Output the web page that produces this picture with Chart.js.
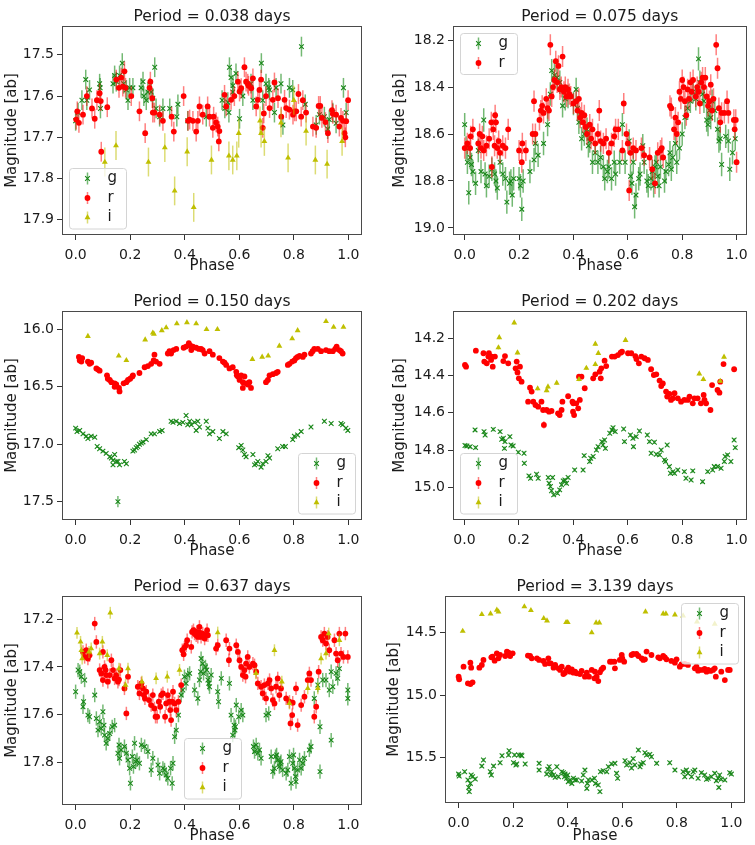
<!DOCTYPE html>
<html><head><meta charset="utf-8">
<script src="https://cdn.jsdelivr.net/npm/chart.js@4.4.0/dist/chart.umd.min.js"></script>
<style>
html,body{margin:0;padding:0;background:#fff;}
#wrap{position:relative;width:755px;height:845px;overflow:hidden;background:#fff;}
canvas{position:absolute;}
</style></head><body><div id="wrap"></div>
<script>
// ---------------- data (phase, magnitude[, error]) ----------------
const phaseTicks = [0.0, 0.2, 0.4, 0.6, 0.8, 1.0];
const titles = ['Period = 0.038 days','Period = 0.075 days','Period = 0.150 days','Period = 0.202 days','Period = 0.637 days','Period = 3.139 days'];
const p1_yticks = [17.5, 17.6, 17.7, 17.8, 17.9];
const p2_yticks = [18.2, 18.4, 18.6, 18.8, 19.0];
const p3_yticks = [16.0, 16.5, 17.0, 17.5];
const p4_yticks = [14.2, 14.4, 14.6, 14.8, 15.0];
const p5_yticks = [17.2, 17.4, 17.6, 17.8];
const p6_yticks = [14.5, 15.0, 15.5];

const p1_g = [[0.000,17.66],[0.009,17.64],[0.023,17.61],[0.037,17.56],[0.041,17.61],[0.051,17.585],[0.088,17.57],[0.090,17.58],[0.091,17.63],[0.137,17.57],[0.143,17.55],[0.149,17.565],[0.161,17.55],[0.171,17.52],[0.176,17.57],[0.186,17.585],[0.192,17.61],[0.198,17.58],[0.210,17.58],[0.240,17.58],[0.247,17.565],[0.250,17.60],[0.259,17.61],[0.265,17.59],[0.277,17.59],[0.283,17.605],[0.290,17.53],[0.295,17.63],[0.308,17.65],[0.320,17.63],[0.345,17.63],[0.371,17.65],[0.375,17.62],[0.411,17.66],[0.479,17.65],[0.537,17.61],[0.547,17.63],[0.558,17.615],[0.562,17.64],[0.564,17.53],[0.570,17.555],[0.576,17.59],[0.577,17.575],[0.588,17.545],[0.601,17.655],[0.613,17.60],[0.643,17.57],[0.650,17.61],[0.681,17.52],[0.686,17.61],[0.698,17.57],[0.708,17.58],[0.711,17.585],[0.729,17.64],[0.735,17.58],[0.753,17.57],[0.760,17.67],[0.784,17.58],[0.796,17.585],[0.828,17.48],[0.842,17.62],[0.882,17.67],[0.894,17.645],[0.912,17.65],[0.924,17.68],[0.930,17.657],[0.943,17.64],[0.955,17.666],[0.982,17.58],[0.992,17.64]];
const p1_r = [[0.002,17.657],[0.006,17.637],[0.012,17.665],[0.027,17.645],[0.041,17.60],[0.060,17.63],[0.070,17.655],[0.078,17.61],[0.088,17.593],[0.092,17.612],[0.094,17.735],[0.116,17.627],[0.149,17.56],[0.159,17.58],[0.167,17.555],[0.173,17.577],[0.179,17.54],[0.183,17.58],[0.204,17.60],[0.234,17.637],[0.255,17.69],[0.271,17.58],[0.274,17.565],[0.281,17.605],[0.283,17.64],[0.289,17.64],[0.308,17.645],[0.320,17.66],[0.352,17.65],[0.360,17.686],[0.396,17.60],[0.412,17.66],[0.418,17.657],[0.430,17.66],[0.442,17.686],[0.448,17.66],[0.454,17.625],[0.466,17.645],[0.484,17.625],[0.491,17.65],[0.503,17.677],[0.506,17.65],[0.515,17.664],[0.521,17.674],[0.527,17.685],[0.525,17.71],[0.546,17.597],[0.552,17.625],[0.570,17.609],[0.582,17.60],[0.595,17.565],[0.601,17.589],[0.607,17.581],[0.619,17.53],[0.625,17.565],[0.631,17.57],[0.634,17.575],[0.644,17.581],[0.650,17.557],[0.662,17.625],[0.668,17.609],[0.674,17.585],[0.680,17.56],[0.686,17.677],[0.690,17.642],[0.698,17.60],[0.711,17.629],[0.723,17.609],[0.729,17.567],[0.742,17.605],[0.754,17.65],[0.766,17.609],[0.772,17.629],[0.784,17.633],[0.797,17.645],[0.803,17.637],[0.809,17.637],[0.817,17.595],[0.827,17.65],[0.833,17.61],[0.845,17.64],[0.870,17.674],[0.882,17.677],[0.891,17.624],[0.897,17.624],[0.903,17.653],[0.916,17.663],[0.925,17.69],[0.940,17.634],[0.943,17.643],[0.955,17.645],[0.967,17.674],[0.973,17.653],[0.980,17.66],[0.986,17.69],[0.989,17.70],[0.992,17.661],[0.999,17.61]];
const p1_i = [[0.107,17.76],[0.148,17.72],[0.267,17.76],[0.327,17.725],[0.363,17.83],[0.409,17.735],[0.433,17.87],[0.498,17.755],[0.562,17.745],[0.576,17.755],[0.591,17.745],[0.598,17.69],[0.676,17.66],[0.680,17.69],[0.692,17.71],[0.753,17.665],[0.779,17.75],[0.800,17.61],[0.845,17.685],[0.879,17.755],[0.922,17.765],[0.977,17.71]];

const p2_g = [[0.000,18.56],[0.005,18.66],[0.010,18.72],[0.015,18.85],[0.020,18.70],[0.025,18.73],[0.030,18.76],[0.040,18.81],[0.050,18.67],[0.060,18.76],[0.070,18.54],[0.075,18.77],[0.080,18.82],[0.090,18.78],[0.100,18.75],[0.110,18.77],[0.115,18.80],[0.120,18.83],[0.130,18.72],[0.140,18.77],[0.150,18.79],[0.155,18.89],[0.165,18.81],[0.170,18.80],[0.175,18.86],[0.180,18.79],[0.200,18.79],[0.205,18.82],[0.210,18.92],[0.215,18.80],[0.240,18.76],[0.255,18.71],[0.260,18.64],[0.270,18.69],[0.290,18.64],[0.305,18.56],[0.315,18.43],[0.320,18.33],[0.330,18.35],[0.340,18.36],[0.350,18.38],[0.360,18.48],[0.370,18.45],[0.380,18.44],[0.400,18.47],[0.410,18.41],[0.415,18.49],[0.420,18.55],[0.430,18.62],[0.440,18.60],[0.450,18.58],[0.455,18.65],[0.460,18.63],[0.470,18.72],[0.480,18.68],[0.490,18.72],[0.500,18.70],[0.510,18.74],[0.515,18.79],[0.525,18.76],[0.530,18.74],[0.540,18.79],[0.550,18.72],[0.555,18.77],[0.570,18.72],[0.580,18.56],[0.590,18.72],[0.605,18.63],[0.610,18.78],[0.615,18.81],[0.620,18.72],[0.625,18.91],[0.630,18.86],[0.640,18.79],[0.645,18.77],[0.655,18.65],[0.660,18.72],[0.670,18.80],[0.675,18.82],[0.685,18.79],[0.690,18.76],[0.695,18.82],[0.700,18.74],[0.705,18.72],[0.710,18.78],[0.715,18.82],[0.720,18.74],[0.735,18.80],[0.740,18.76],[0.750,18.73],[0.755,18.68],[0.760,18.75],[0.765,18.70],[0.775,18.64],[0.780,18.72],[0.790,18.66],[0.800,18.60],[0.810,18.53],[0.820,18.49],[0.830,18.46],[0.840,18.42],[0.850,18.45],[0.860,18.28],[0.865,18.38],[0.875,18.43],[0.880,18.46],[0.890,18.54],[0.895,18.56],[0.900,18.50],[0.905,18.53],[0.910,18.46],[0.920,18.50],[0.930,18.58],[0.935,18.63],[0.940,18.62],[0.945,18.73],[0.960,18.61],[0.970,18.63],[0.975,18.75],[0.985,18.68],[0.995,18.62]];
const p2_r = [[0.000,18.66],[0.010,18.64],[0.020,18.66],[0.022,18.61],[0.030,18.58],[0.050,18.64],[0.055,18.60],[0.060,18.66],[0.065,18.61],[0.070,18.67],[0.080,18.65],[0.090,18.62],[0.098,18.55],[0.100,18.74],[0.105,18.58],[0.110,18.65],[0.112,18.52],[0.115,18.55],[0.120,18.66],[0.125,18.63],[0.130,18.68],[0.140,18.65],[0.150,18.66],[0.160,18.58],[0.200,18.67],[0.210,18.72],[0.212,18.64],[0.225,18.67],[0.250,18.60],[0.255,18.46],[0.260,18.60],[0.275,18.54],[0.280,18.50],[0.285,18.48],[0.290,18.51],[0.300,18.45],[0.305,18.49],[0.310,18.50],[0.315,18.22],[0.320,18.44],[0.325,18.40],[0.330,18.37],[0.335,18.29],[0.340,18.38],[0.345,18.31],[0.350,18.41],[0.355,18.40],[0.360,18.27],[0.365,18.42],[0.370,18.40],[0.375,18.44],[0.380,18.41],[0.385,18.43],[0.390,18.44],[0.400,18.47],[0.410,18.46],[0.415,18.50],[0.420,18.45],[0.425,18.53],[0.430,18.51],[0.435,18.55],[0.440,18.52],[0.445,18.57],[0.450,18.60],[0.460,18.56],[0.465,18.62],[0.470,18.58],[0.480,18.64],[0.490,18.60],[0.495,18.50],[0.500,18.63],[0.510,18.64],[0.520,18.62],[0.530,18.68],[0.540,18.64],[0.550,18.61],[0.555,18.58],[0.565,18.58],[0.580,18.67],[0.585,18.47],[0.595,18.60],[0.600,18.64],[0.605,18.84],[0.610,18.68],[0.620,18.66],[0.630,18.67],[0.650,18.66],[0.660,18.69],[0.680,18.70],[0.690,18.75],[0.700,18.81],[0.710,18.68],[0.720,18.67],[0.725,18.66],[0.730,18.70],[0.755,18.48],[0.760,18.49],[0.770,18.58],[0.775,18.53],[0.780,18.60],[0.785,18.55],[0.790,18.42],[0.795,18.45],[0.800,18.37],[0.805,18.40],[0.810,18.46],[0.815,18.52],[0.820,18.41],[0.825,18.45],[0.830,18.38],[0.835,18.42],[0.840,18.37],[0.850,18.44],[0.855,18.40],[0.860,18.42],[0.865,18.47],[0.870,18.38],[0.875,18.36],[0.880,18.40],[0.885,18.36],[0.890,18.44],[0.895,18.48],[0.900,18.46],[0.905,18.39],[0.910,18.50],[0.915,18.45],[0.925,18.22],[0.930,18.32],[0.935,18.49],[0.940,18.55],[0.945,18.51],[0.955,18.51],[0.965,18.46],[0.970,18.51],[0.990,18.54],[0.993,18.58],[0.997,18.54],[1.000,18.72]];

const p3_g = [[0.000,16.86],[0.005,16.89],[0.015,16.88],[0.027,16.91],[0.039,16.93],[0.045,16.95],[0.057,16.93],[0.070,16.94],[0.079,17.02],[0.088,17.04],[0.100,17.06],[0.112,17.08],[0.125,17.11],[0.131,17.12],[0.137,17.14],[0.143,17.09],[0.149,17.15],[0.155,17.15],[0.137,17.18],[0.161,17.18],[0.179,17.15],[0.186,17.17],[0.155,17.50,0.05],[0.210,17.06],[0.216,17.05],[0.222,17.03],[0.228,17.02],[0.234,17.00],[0.241,16.99],[0.247,16.98],[0.259,16.96],[0.277,16.91],[0.289,16.91],[0.308,16.89],[0.317,16.88],[0.350,16.80],[0.357,16.81],[0.369,16.80],[0.381,16.82],[0.393,16.81],[0.405,16.75],[0.411,16.83],[0.418,16.80],[0.424,16.83],[0.436,16.81],[0.442,16.88],[0.448,16.80],[0.454,16.85],[0.479,16.80],[0.485,16.86],[0.491,16.91],[0.503,16.89],[0.527,16.95],[0.540,16.89],[0.552,16.91],[0.598,17.03],[0.607,17.01],[0.613,17.05],[0.619,17.09],[0.625,17.11],[0.650,17.09],[0.656,17.18],[0.662,17.17],[0.668,17.15],[0.680,17.20],[0.686,17.17],[0.698,17.15],[0.705,17.10],[0.711,17.12],[0.741,17.04],[0.759,17.02],[0.769,17.02],[0.796,16.96],[0.802,16.93],[0.814,16.92],[0.827,16.89],[0.863,16.85],[0.912,16.80],[0.937,16.82],[0.973,16.82],[0.979,16.83],[0.991,16.86],[0.998,16.88]];
const p3_r = [[0.012,16.24],[0.015,16.27],[0.021,16.28],[0.024,16.25],[0.045,16.28],[0.051,16.30],[0.057,16.29],[0.076,16.34],[0.082,16.35],[0.088,16.36],[0.115,16.40],[0.118,16.43],[0.125,16.44],[0.131,16.46],[0.143,16.47],[0.143,16.50],[0.149,16.48],[0.159,16.51],[0.161,16.54],[0.176,16.47],[0.186,16.46],[0.192,16.44],[0.200,16.43],[0.208,16.41],[0.210,16.40],[0.234,16.38],[0.253,16.33],[0.265,16.32],[0.277,16.30],[0.286,16.27],[0.289,16.22],[0.295,16.28],[0.308,16.30],[0.338,16.21],[0.344,16.19],[0.350,16.21],[0.359,16.18],[0.369,16.17],[0.396,16.16],[0.405,16.15],[0.415,16.12],[0.420,16.14],[0.424,16.18],[0.430,16.15],[0.442,16.16],[0.452,16.17],[0.460,16.17],[0.466,16.18],[0.473,16.21],[0.491,16.19],[0.503,16.22],[0.527,16.25],[0.540,16.28],[0.546,16.29],[0.552,16.31],[0.564,16.34],[0.576,16.33],[0.589,16.37],[0.591,16.40],[0.595,16.41],[0.601,16.44],[0.607,16.40],[0.613,16.46],[0.619,16.41],[0.625,16.47],[0.631,16.48],[0.637,16.46],[0.643,16.51],[0.613,16.51],[0.698,16.46],[0.705,16.44],[0.711,16.40],[0.723,16.39],[0.735,16.38],[0.741,16.37],[0.778,16.31],[0.784,16.30],[0.794,16.28],[0.802,16.27],[0.808,16.25],[0.814,16.24],[0.821,16.23],[0.833,16.24],[0.839,16.22],[0.863,16.21],[0.869,16.19],[0.875,16.17],[0.888,16.17],[0.900,16.19],[0.918,16.18],[0.930,16.19],[0.943,16.19],[0.952,16.17],[0.957,16.15],[0.967,16.18],[0.973,16.19],[0.979,16.21]];
const p3_i = [[0.045,16.06],[0.158,16.23],[0.186,16.27],[0.255,16.09],[0.283,16.03],[0.287,16.04],[0.316,16.01],[0.332,15.985],[0.371,15.95],[0.408,15.94],[0.442,15.95],[0.480,16.00],[0.520,16.00],[0.648,16.26],[0.684,16.24],[0.706,16.23],[0.747,16.145],[0.794,16.08],[0.814,16.01],[0.918,15.93],[0.946,15.98],[0.982,15.98]];

const p4_g = [[0.002,14.776],[0.009,14.778],[0.021,14.782],[0.039,14.692],[0.041,14.787],[0.072,14.701],[0.076,14.719],[0.106,14.689],[0.131,14.701],[0.137,14.742],[0.143,14.737],[0.147,14.791],[0.149,14.755],[0.167,14.728],[0.171,14.773],[0.179,14.778],[0.198,14.812],[0.219,14.817],[0.220,14.871],[0.237,14.939],[0.243,14.952],[0.265,14.930],[0.271,14.952],[0.308,14.948],[0.311,14.979],[0.316,14.996],[0.320,15.019],[0.324,14.948],[0.328,15.041],[0.342,15.032],[0.350,15.014],[0.357,14.987],[0.363,14.966],[0.369,14.961],[0.375,14.979],[0.381,14.948],[0.405,14.907],[0.436,14.907],[0.440,14.830],[0.460,14.862],[0.464,14.844],[0.473,14.835],[0.485,14.800],[0.491,14.782],[0.505,14.755],[0.509,14.773],[0.515,14.746],[0.518,14.791],[0.534,14.710],[0.542,14.692],[0.546,14.680],[0.554,14.701],[0.585,14.687],[0.588,14.755],[0.610,14.719],[0.619,14.737],[0.631,14.728],[0.643,14.698],[0.621,14.782],[0.672,14.719],[0.680,14.755],[0.686,14.817],[0.698,14.758],[0.705,14.823],[0.717,14.826],[0.723,14.800],[0.735,14.853],[0.739,14.862],[0.745,14.773],[0.753,14.889],[0.757,14.925],[0.766,14.916],[0.772,14.925],[0.784,14.907],[0.808,14.916],[0.814,14.952],[0.833,14.961],[0.839,14.912],[0.875,14.970],[0.894,14.916],[0.912,14.907],[0.918,14.889],[0.930,14.889],[0.943,14.898],[0.955,14.862],[0.958,14.835],[0.967,14.826],[0.979,14.862],[0.991,14.746],[0.995,14.787]];
const p4_r = [[0.002,14.343],[0.006,14.352],[0.042,14.266],[0.070,14.280],[0.073,14.325],[0.082,14.334],[0.088,14.298],[0.090,14.280],[0.098,14.316],[0.104,14.352],[0.100,14.298],[0.112,14.298],[0.143,14.322],[0.149,14.295],[0.161,14.334],[0.188,14.361],[0.192,14.325],[0.195,14.383],[0.200,14.415],[0.204,14.352],[0.210,14.433],[0.241,14.465],[0.247,14.486],[0.234,14.540],[0.253,14.540],[0.261,14.558],[0.271,14.567],[0.283,14.540],[0.289,14.585],[0.302,14.585],[0.292,14.665,0.02],[0.311,14.594],[0.320,14.590],[0.350,14.612],[0.344,14.603],[0.357,14.585],[0.360,14.540],[0.381,14.511],[0.397,14.540],[0.399,14.594],[0.403,14.612],[0.400,14.549],[0.411,14.549],[0.418,14.576],[0.424,14.531],[0.442,14.468],[0.421,14.406],[0.430,14.406],[0.473,14.415],[0.481,14.393],[0.497,14.379],[0.503,14.361],[0.501,14.415],[0.515,14.320],[0.521,14.349],[0.542,14.298],[0.552,14.298],[0.564,14.290],[0.574,14.277],[0.579,14.272],[0.601,14.280],[0.613,14.280],[0.628,14.295],[0.632,14.311],[0.641,14.334],[0.650,14.298],[0.662,14.307],[0.674,14.316],[0.686,14.366],[0.696,14.397],[0.705,14.393],[0.717,14.427],[0.723,14.456],[0.729,14.442],[0.741,14.486],[0.745,14.513],[0.753,14.499],[0.759,14.531],[0.766,14.522],[0.772,14.495],[0.784,14.522],[0.796,14.540],[0.808,14.531],[0.821,14.531],[0.827,14.513],[0.839,14.549],[0.845,14.522],[0.857,14.522],[0.869,14.549],[0.879,14.504],[0.888,14.549],[0.882,14.531],[0.904,14.585],[0.910,14.451],[0.930,14.477],[0.937,14.492],[0.940,14.433],[0.952,14.338],[0.991,14.366]];
const p4_i = [[0.125,14.250],[0.128,14.195],[0.183,14.116],[0.195,14.277],[0.269,14.470],[0.302,14.480],[0.307,14.460],[0.339,14.440],[0.421,14.420],[0.448,14.360],[0.481,14.230],[0.481,14.340],[0.492,14.280],[0.592,14.210],[0.863,14.390],[0.878,14.420],[0.940,14.430],[0.954,14.300]];

const p5_g = [[0.000,17.504],[0.009,17.413],[0.015,17.420],[0.021,17.441],[0.027,17.567],[0.029,17.546],[0.033,17.455],[0.045,17.602],[0.051,17.609],[0.070,17.518],[0.076,17.616],[0.082,17.665],[0.088,17.630],[0.094,17.658],[0.100,17.588],[0.104,17.644],[0.106,17.686],[0.112,17.720],[0.118,17.700],[0.125,17.679],[0.134,17.651],[0.143,17.644],[0.155,17.762],[0.159,17.727],[0.161,17.783],[0.167,17.748],[0.179,17.734],[0.186,17.762],[0.192,17.790],[0.198,17.825],[0.201,17.888],[0.208,17.776],[0.212,17.818],[0.216,17.720],[0.220,17.797],[0.225,17.790],[0.234,17.804],[0.241,17.727],[0.253,17.734],[0.265,17.755],[0.277,17.832],[0.283,17.783],[0.302,17.811],[0.308,17.846],[0.320,17.825],[0.326,17.832],[0.332,17.853],[0.338,17.867],[0.348,17.825],[0.354,17.888],[0.357,17.804],[0.363,17.693],[0.369,17.665],[0.377,17.602],[0.387,17.518],[0.393,17.497],[0.399,17.441],[0.405,17.469],[0.411,17.434],[0.418,17.427],[0.436,17.497],[0.448,17.532],[0.454,17.455],[0.458,17.420],[0.460,17.365],[0.466,17.386],[0.469,17.427],[0.476,17.400],[0.481,17.413],[0.485,17.455],[0.488,17.469],[0.491,17.483],[0.497,17.434],[0.521,17.504],[0.524,17.546],[0.534,17.448],[0.564,17.469],[0.570,17.602],[0.576,17.686],[0.581,17.644],[0.584,17.665],[0.586,17.651],[0.589,17.560],[0.598,17.609],[0.607,17.581],[0.613,17.602],[0.652,17.734],[0.656,17.755],[0.662,17.727],[0.668,17.762],[0.674,17.748],[0.680,17.783],[0.698,17.602],[0.708,17.595],[0.717,17.776],[0.723,17.839],[0.729,17.825],[0.733,17.776],[0.737,17.769],[0.741,17.790],[0.747,17.818],[0.750,17.804],[0.753,17.797],[0.759,17.832],[0.772,17.846],[0.778,17.832],[0.784,17.776],[0.790,17.888],[0.796,17.804],[0.799,17.769],[0.802,17.825],[0.806,17.860],[0.808,17.881],[0.814,17.832],[0.821,17.790],[0.827,17.825],[0.833,17.804],[0.839,17.783],[0.857,17.748],[0.863,17.734],[0.875,17.532],[0.888,17.476],[0.896,17.651],[0.896,17.839],[0.906,17.455],[0.918,17.455],[0.930,17.497],[0.937,17.420],[0.943,17.483],[0.955,17.427],[0.961,17.448],[0.967,17.407],[0.998,17.532],[0.998,17.497],[0.937,17.707]];
const p5_r = [[0.027,17.337],[0.033,17.358],[0.039,17.330],[0.045,17.365],[0.051,17.351],[0.070,17.218],[0.076,17.295],[0.088,17.413],[0.094,17.427],[0.100,17.337],[0.100,17.455],[0.106,17.400],[0.110,17.413],[0.112,17.434],[0.118,17.462],[0.125,17.434],[0.131,17.372],[0.137,17.413],[0.143,17.448],[0.149,17.434],[0.155,17.462],[0.159,17.453],[0.164,17.413],[0.179,17.490],[0.186,17.595],[0.192,17.441],[0.228,17.483],[0.234,17.511],[0.241,17.469],[0.247,17.490],[0.250,17.518],[0.254,17.532],[0.259,17.504],[0.269,17.539],[0.277,17.560],[0.283,17.518],[0.289,17.574],[0.293,17.609],[0.299,17.609],[0.305,17.546],[0.310,17.567],[0.314,17.518],[0.320,17.511],[0.328,17.609],[0.332,17.553],[0.338,17.518],[0.344,17.546],[0.347,17.581],[0.350,17.623],[0.354,17.546],[0.357,17.504],[0.363,17.553],[0.369,17.581],[0.377,17.546],[0.387,17.476],[0.391,17.330],[0.396,17.347],[0.399,17.319],[0.405,17.309],[0.409,17.288],[0.424,17.316],[0.427,17.253],[0.432,17.246],[0.436,17.260],[0.442,17.267],[0.444,17.253],[0.448,17.274],[0.452,17.257],[0.454,17.232],[0.457,17.257],[0.460,17.274],[0.466,17.260],[0.473,17.281],[0.479,17.267],[0.482,17.246],[0.485,17.267],[0.515,17.323],[0.521,17.309],[0.552,17.288],[0.562,17.372],[0.564,17.323],[0.589,17.309],[0.595,17.337],[0.601,17.372],[0.607,17.400],[0.613,17.434],[0.619,17.413],[0.623,17.441],[0.625,17.386],[0.631,17.358],[0.637,17.400],[0.650,17.386],[0.656,17.393],[0.662,17.420],[0.668,17.469],[0.680,17.483],[0.686,17.511],[0.692,17.476],[0.698,17.532],[0.705,17.469],[0.711,17.455],[0.717,17.490],[0.723,17.539],[0.729,17.553],[0.735,17.483],[0.741,17.448],[0.747,17.518],[0.753,17.490],[0.772,17.532],[0.784,17.546],[0.788,17.637],[0.794,17.602],[0.796,17.550],[0.808,17.490],[0.814,17.644],[0.827,17.560],[0.839,17.525],[0.851,17.455],[0.857,17.427],[0.863,17.455],[0.875,17.609],[0.882,17.567],[0.891,17.420],[0.900,17.274],[0.906,17.288],[0.912,17.260],[0.918,17.302],[0.924,17.274],[0.930,17.330],[0.949,17.288],[0.955,17.344],[0.961,17.372],[0.967,17.260],[0.973,17.344],[0.982,17.358],[0.989,17.260],[0.998,17.358]];
const p5_i = [[0.005,17.257],[0.018,17.295],[0.021,17.330],[0.024,17.365],[0.049,17.337],[0.057,17.323],[0.088,17.344],[0.098,17.295],[0.116,17.351],[0.127,17.173],[0.159,17.407],[0.183,17.476],[0.192,17.407],[0.243,17.462],[0.295,17.448],[0.336,17.441],[0.381,17.413],[0.521,17.256],[0.661,17.427],[0.729,17.330],[0.756,17.462],[0.784,17.553],[0.851,17.490],[0.888,17.490],[0.900,17.365],[0.918,17.344],[0.928,17.260],[0.967,17.288]];

const p6_g = [[0.000,15.634],[0.002,15.650],[0.022,15.615],[0.034,15.682],[0.037,15.741],[0.039,15.775],[0.043,15.709],[0.046,15.642],[0.051,15.655],[0.061,15.674],[0.085,15.570],[0.091,15.521],[0.116,15.615],[0.120,15.642],[0.128,15.570],[0.152,15.543],[0.159,15.487],[0.183,15.481],[0.185,15.447],[0.201,15.543],[0.205,15.481],[0.210,15.561],[0.213,15.553],[0.220,15.481],[0.229,15.481],[0.232,15.487],[0.244,15.553],[0.295,15.548],[0.295,15.602],[0.323,15.634],[0.327,15.596],[0.332,15.575],[0.338,15.642],[0.341,15.615],[0.348,15.642],[0.354,15.660],[0.360,15.575],[0.366,15.655],[0.378,15.615],[0.384,15.623],[0.388,15.655],[0.390,15.634],[0.396,15.668],[0.400,15.642],[0.402,15.695],[0.409,15.682],[0.415,15.709],[0.421,15.668],[0.427,15.682],[0.433,15.682],[0.451,15.690],[0.457,15.642],[0.463,15.602],[0.470,15.749],[0.472,15.709],[0.476,15.682],[0.488,15.682],[0.498,15.668],[0.502,15.709],[0.512,15.722],[0.518,15.775],[0.520,15.615],[0.530,15.607],[0.543,15.615],[0.549,15.575],[0.561,15.553],[0.573,15.548],[0.579,15.628],[0.583,15.668],[0.610,15.527],[0.616,15.561],[0.628,15.543],[0.634,15.585],[0.640,15.510],[0.646,15.561],[0.659,15.441],[0.665,15.575],[0.668,15.553],[0.677,15.543],[0.683,15.463],[0.689,15.481],[0.701,15.476],[0.707,15.495],[0.726,15.548],[0.774,15.543],[0.793,15.602],[0.823,15.615],[0.829,15.655],[0.835,15.602],[0.841,15.628],[0.854,15.655],[0.860,15.615],[0.866,15.602],[0.878,15.668],[0.890,15.623],[0.902,15.642],[0.909,15.676],[0.915,15.668],[0.927,15.655],[0.939,15.628],[0.945,15.687],[0.951,15.668],[0.954,15.741],[0.957,15.642],[0.963,15.676],[0.976,15.682],[0.994,15.623],[1.000,15.634]];
const p6_r = [[0.000,14.853],[0.002,14.874],[0.018,14.773],[0.034,14.906],[0.043,14.912],[0.051,14.898],[0.043,14.741],[0.046,14.781],[0.076,14.781],[0.085,14.759],[0.091,14.719],[0.120,14.698],[0.124,14.693],[0.132,14.725],[0.140,14.666],[0.146,14.706],[0.152,14.679],[0.171,14.687],[0.177,14.652],[0.183,14.660],[0.189,14.687],[0.198,14.666],[0.254,14.684],[0.262,14.687],[0.268,14.706],[0.287,14.706],[0.295,14.719],[0.311,14.727],[0.317,14.751],[0.329,14.706],[0.332,14.746],[0.338,14.746],[0.348,14.781],[0.354,14.759],[0.366,14.786],[0.372,14.799],[0.378,14.773],[0.384,14.832],[0.390,14.821],[0.396,14.799],[0.402,14.781],[0.409,14.813],[0.415,14.794],[0.421,14.821],[0.427,14.813],[0.433,14.826],[0.445,14.832],[0.451,14.807],[0.463,14.853],[0.470,14.821],[0.478,14.853],[0.488,14.799],[0.498,14.866],[0.500,14.813],[0.506,14.853],[0.512,14.888],[0.518,14.818],[0.524,14.794],[0.530,14.781],[0.555,14.733],[0.561,14.733],[0.571,14.733],[0.573,14.786],[0.591,14.719],[0.600,14.706],[0.598,14.679],[0.607,14.733],[0.634,14.679],[0.640,14.671],[0.652,14.671],[0.659,14.687],[0.671,14.706],[0.677,14.719],[0.683,14.714],[0.689,14.652],[0.707,14.679],[0.732,14.698],[0.738,14.706],[0.750,14.687],[0.756,14.698],[0.762,14.714],[0.780,14.727],[0.793,14.741],[0.799,14.714],[0.811,14.773],[0.817,14.754],[0.829,14.751],[0.841,14.759],[0.866,14.786],[0.872,14.773],[0.878,14.805],[0.884,14.799],[0.896,14.799],[0.902,14.791],[0.909,14.813],[0.915,14.799],[0.924,14.807],[0.933,14.799],[0.939,14.786],[0.943,14.853],[0.963,14.813],[0.976,14.880],[0.988,14.799],[0.994,14.799]];
const p6_i = [[0.015,14.487],[0.085,14.353],[0.117,14.348],[0.140,14.318],[0.146,14.332],[0.241,14.291],[0.265,14.321],[0.312,14.385],[0.324,14.404],[0.394,14.417],[0.400,14.417],[0.488,14.500],[0.504,14.420],[0.516,14.420],[0.685,14.332],[0.750,14.348],[0.760,14.348],[0.793,14.356],[0.823,14.364],[0.874,14.412],[0.939,14.430]];

// ---------------- styles ----------------
const STYLE = {
  g: {color:'rgb(25,135,25)', err:'rgba(0,128,0,0.55)', pointStyle:'crossRot', radius:3.3, borderWidth:1.1, order:3},
  r: {color:'#ff0000', err:'rgba(255,0,0,0.5)', pointStyle:'circle', radius:2.9, borderWidth:0, order:2},
  i: {color:'#bfbf00', err:'rgba(191,191,0,0.55)', pointStyle:'triangle', radius:3.4, borderWidth:0, order:1}
};

const panels = [
  {title:titles[0], box:{l:0,t:0,w:375,h:280}, yW:62, padR:13, padB:5, yTP:3, x:[-0.05,1.05], y:[17.43,17.937], yticks:p1_yticks,
   series:[['g',p1_g,0.024],['r',p1_r,0.024],['i',p1_i,0.035]], legend:{loc:'lower left', items:['g','r','i']}},
  {title:titles[1], box:{l:385,t:0,w:370,h:280}, yW:68, padR:8, padB:5, yTP:6, x:[-0.043,1.037], y:[18.14,19.03], yticks:p2_yticks,
   series:[['g',p2_g,0.05],['r',p2_r,0.045]], legend:{loc:'upper left', items:['g','r']}},
  {title:titles[2], box:{l:0,t:285,w:375,h:280}, yW:62, padR:13, padB:5, yTP:3, x:[-0.05,1.05], y:[15.84,17.66], yticks:p3_yticks,
   series:[['g',p3_g,0.012],['r',p3_r,0.008],['i',p3_i,0.008]], legend:{loc:'lower right', items:['g','r','i']}},
  {title:titles[3], box:{l:385,t:285,w:370,h:280}, yW:68, padR:8, padB:5, yTP:6, x:[-0.042,1.037], y:[14.053,15.176], yticks:p4_yticks,
   series:[['g',p4_g,0.01],['r',p4_r,0.008],['i',p4_i,0.01]], legend:{loc:'lower left', items:['g','r','i']}},
  {title:titles[4], box:{l:0,t:570,w:375,h:275}, yW:62, padR:13, padB:0, yTP:3, x:[-0.05,1.05], y:[17.1025,17.979], yticks:p5_yticks,
   series:[['g',p5_g,0.03],['r',p5_r,0.028],['i',p5_i,0.025]], legend:{loc:'lower center', items:['g','r','i']}},
  {title:titles[5], box:{l:385,t:570,w:370,h:275}, yW:60, padR:10, padB:0, yTP:0.5, x:[-0.05,1.05], y:[14.206,15.866], yticks:p6_yticks,
   series:[['g',p6_g,0.015],['r',p6_r,0.006],['i',p6_i,0.006]], legend:{loc:'upper right', items:['g','r','i']}, xH:42}
];

// ---------------- plugins ----------------
const errorBars = {
  id:'errorBars',
  beforeDatasetDraw(chart, args){
    const ds = chart.data.datasets[args.index];
    if (!ds.errors) return;
    const {ctx, chartArea:a, scales:{x, y}} = chart;
    ctx.save();
    ctx.beginPath(); ctx.rect(a.left, a.top, a.right-a.left, a.bottom-a.top); ctx.clip();
    ctx.strokeStyle = ds.errorColor; ctx.lineWidth = 1.5;
    ds.data.forEach((p, i) => {
      const e = ds.errors[i];
      const px = x.getPixelForValue(p.x);
      ctx.beginPath();
      ctx.moveTo(px, y.getPixelForValue(p.y - e));
      ctx.lineTo(px, y.getPixelForValue(p.y + e));
      ctx.stroke();
    });
    ctx.restore();
  }
};
const frame = {
  id:'frame',
  afterDatasetsDraw(chart){
    const {ctx, chartArea:a} = chart;
    ctx.save(); ctx.strokeStyle = '#4a4a4a'; ctx.lineWidth = 1;
    ctx.strokeRect(Math.round(a.left)+0.5, Math.round(a.top)+0.5, Math.round(a.right-a.left)-1, Math.round(a.bottom-a.top)-1);
    ctx.restore();
  }
};
function rrect(ctx, x, y, w, h, r){
  ctx.beginPath();
  ctx.moveTo(x+r, y); ctx.lineTo(x+w-r, y); ctx.arcTo(x+w, y, x+w, y+r, r);
  ctx.lineTo(x+w, y+h-r); ctx.arcTo(x+w, y+h, x+w-r, y+h, r);
  ctx.lineTo(x+r, y+h); ctx.arcTo(x, y+h, x, y+h-r, r);
  ctx.lineTo(x, y+r); ctx.arcTo(x, y, x+r, y, r); ctx.closePath();
}
const boxLegend = {
  id:'boxLegend',
  afterDraw(chart, args, opts){
    const items = opts.items; if (!items || !items.length) return;
    const {ctx, chartArea:a} = chart;
    const w = 57, rowH = 19.5, h = items.length*rowH + 2, pad = 7;
    let x0, y0;
    if (opts.loc.includes('left')) x0 = a.left + pad;
    else if (opts.loc.includes('right')) x0 = a.right - pad - w;
    else x0 = (a.left + a.right)/2 - w/2;
    y0 = opts.loc.startsWith('upper') ? a.top + pad : a.bottom - pad - h;
    x0 = Math.round(x0)+0.5; y0 = Math.round(y0)+0.5;
    ctx.save();
    rrect(ctx, x0, y0, w, h, 3);
    ctx.fillStyle = 'rgba(255,255,255,0.8)'; ctx.fill();
    ctx.strokeStyle = '#d4d4d4'; ctx.lineWidth = 1; ctx.stroke();
    items.forEach((key, i) => {
      const st = STYLE[key];
      const cx = x0 + 18, cy = y0 + 10 + rowH*i;
      ctx.strokeStyle = st.err; ctx.lineWidth = 1.5;
      ctx.beginPath(); ctx.moveTo(cx, cy-6); ctx.lineTo(cx, cy+6); ctx.stroke();
      ctx.fillStyle = st.color; ctx.strokeStyle = st.color; ctx.lineWidth = st.borderWidth || 1;
      Chart.helpers.drawPoint(ctx, {pointStyle:st.pointStyle, radius:st.radius, borderWidth:st.borderWidth, rotation:0}, cx, cy);
      ctx.fillStyle = '#1a1a1a'; ctx.font = '15px "DejaVu Sans", sans-serif';
      ctx.textBaseline = 'middle'; ctx.textAlign = 'left';
      ctx.fillText(key, x0 + 38, cy);
    });
    ctx.restore();
  }
};

Chart.defaults.font.family = "'DejaVu Sans', 'Liberation Sans', sans-serif";
Chart.defaults.color = '#1a1a1a';

const wrap = document.getElementById('wrap');
panels.forEach(cfg => {
  const cv = document.createElement('canvas');
  cv.width = cfg.box.w; cv.height = cfg.box.h;
  cv.style.left = cfg.box.l + 'px'; cv.style.top = cfg.box.t + 'px';
  cv.style.width = cfg.box.w + 'px'; cv.style.height = cfg.box.h + 'px';
  wrap.appendChild(cv);
  const datasets = cfg.series.map(([key, arr, err]) => {
    const st = STYLE[key];
    return {
      label: key,
      data: arr.map(p => ({x:p[0], y:p[1]})),
      errors: arr.map(p => p.length > 2 ? p[2] : err),
      errorColor: st.err,
      showLine: false,
      order: st.order,
      pointStyle: st.pointStyle,
      pointRadius: st.radius,
      pointHoverRadius: st.radius,
      pointBorderWidth: st.borderWidth,
      pointBackgroundColor: st.color,
      pointBorderColor: st.color,
      backgroundColor: st.color,
      borderColor: st.color
    };
  });
  const tickFont = {size:14};
  const xH = cfg.xH || 40;
  new Chart(cv, {
    type:'scatter',
    data:{datasets},
    plugins:[errorBars, frame, boxLegend],
    options:{
      responsive:false, animation:false, events:[],
      layout:{padding:{left:0, right:cfg.padR, top:0, bottom:cfg.padB}},
      plugins:{
        legend:{display:false}, tooltip:{enabled:false},
        title:{display:true, text:cfg.title, fullSize:false, color:'#1a1a1a',
               font:{size:15.5, weight:'normal'}, padding:{top:7.4, bottom:0}},
        boxLegend: cfg.legend
      },
      scales:{
        x:{type:'linear', position:'bottom', min:cfg.x[0], max:cfg.x[1],
           afterFit: s => { s.height = xH; },
           afterBuildTicks: s => { s.ticks = phaseTicks.map(v => ({value:v})); },
           ticks:{callback: v => Number(v).toFixed(1), font:tickFont, padding:7, color:'#1a1a1a', maxRotation:0, autoSkip:false},
           grid:{display:true, drawOnChartArea:false, drawTicks:true, tickLength:5, color:'#333', lineWidth:1},
           border:{display:false},
           title:{display:true, text:'Phase', font:{size:15}, color:'#1a1a1a', padding:{top:0, bottom:0}}},
        y:{type:'linear', position:'left', reverse:true, min:cfg.y[0], max:cfg.y[1],
           afterFit: s => { s.width = cfg.yW; },
           afterBuildTicks: s => { s.ticks = cfg.yticks.map(v => ({value:v})); },
           ticks:{callback: v => Number(v).toFixed(1), font:tickFont, padding:3, color:'#1a1a1a', autoSkip:false},
           grid:{display:true, drawOnChartArea:false, drawTicks:true, tickLength:5, color:'#333', lineWidth:1},
           border:{display:false},
           title:{display:true, text:'Magnitude [ab]', font:{size:15}, color:'#1a1a1a', padding:{top:cfg.yTP, bottom:0}}}
      }
    }
  });
});
</script>
</body></html>
